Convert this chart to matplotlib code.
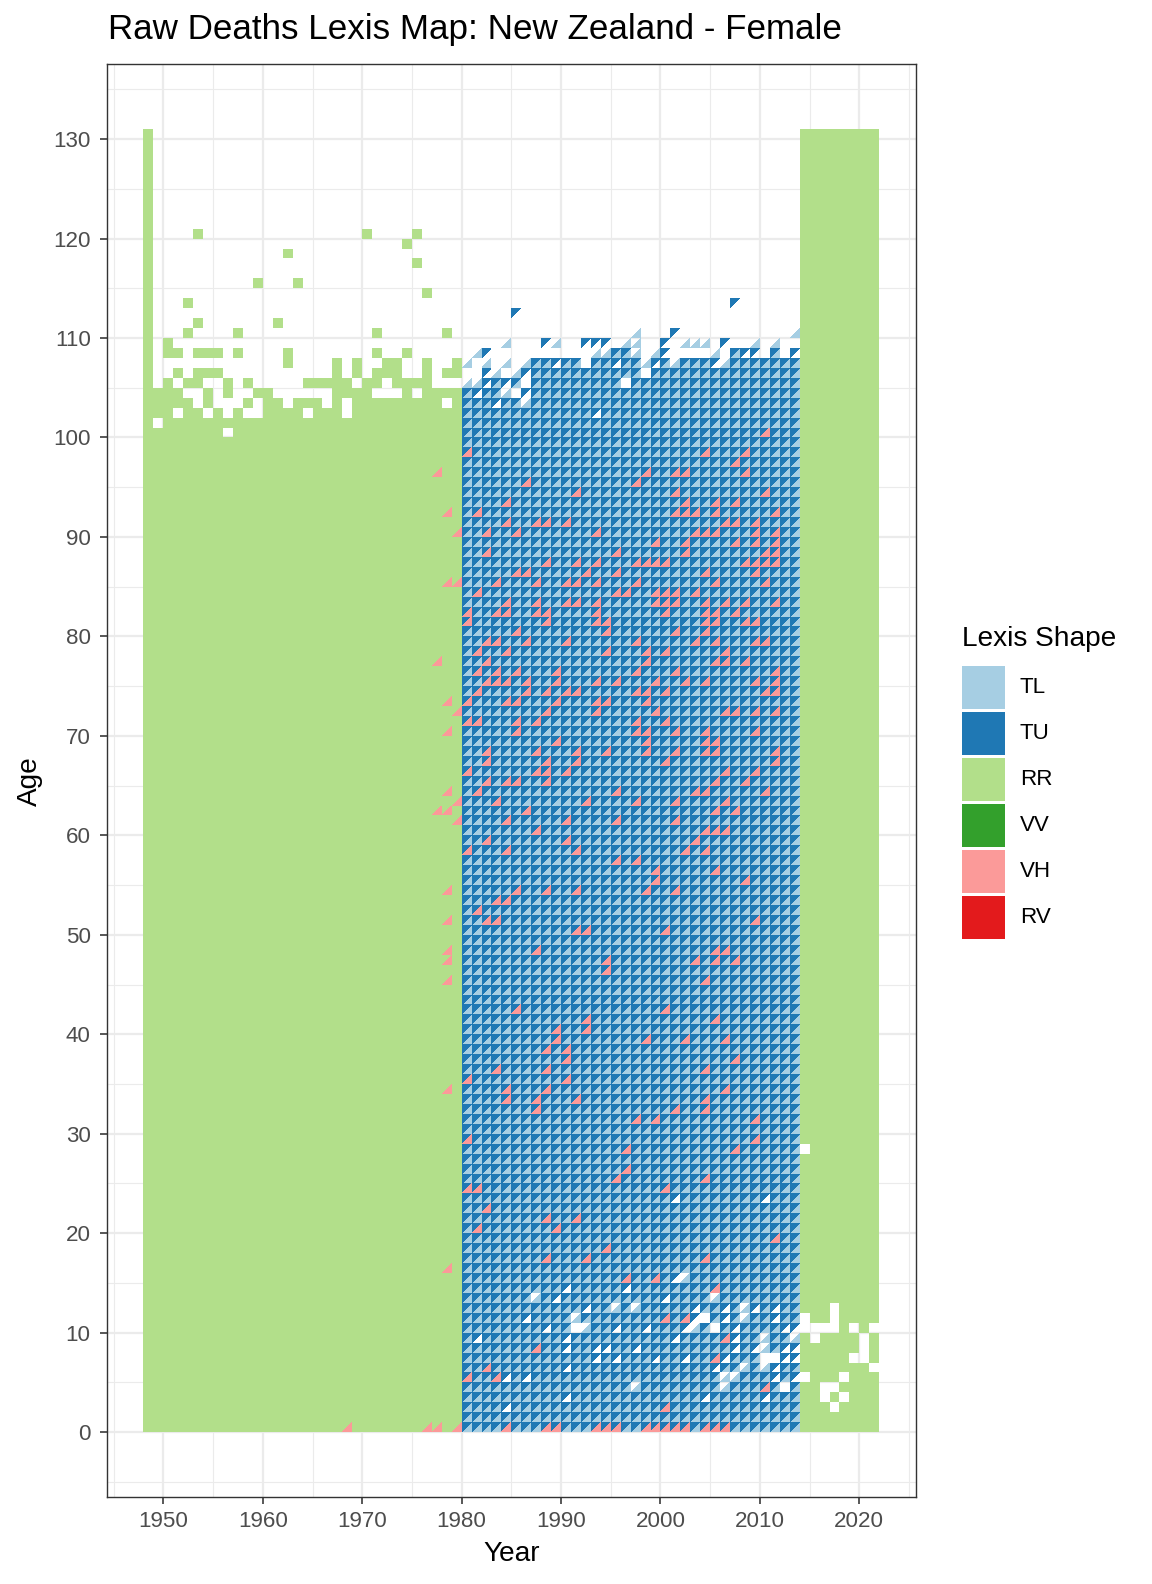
import matplotlib
matplotlib.use('Agg')
import matplotlib.pyplot as plt
from matplotlib.collections import PolyCollection
from matplotlib.patches import Rectangle

plt.rcParams['font.family'] = ['Liberation Sans', 'DejaVu Sans']

# ---------------- data ----------------
shape_names = ['TL', 'TU', 'RR', 'VV', 'VH', 'RV']
shape_colors = ['#A6CEE3', '#1F78B4', '#B2DF8A', '#33A02C', '#FB9A99', '#E31A1C']

# RR period 1948-1979: every age below 100 is present, rows above are read cell by cell
rr_left_years = list(range(1948, 1980))
rr_left_full_below = 100
rr_1948_top = 131
rr_left_rows = {
    120: "#....#................#....#....",
    119: "#.........................#.....",
    118: "#.............#.................",
    117: "#..........................#....",
    116: "#...............................",
    115: "#..........#...#................",
    114: "#...........................#...",
    113: "#...#...........................",
    112: "#...............................",
    111: "#....#.......#..................",
    110: "#...#....#.............#......#.",
    109: "#.#.............................",
    108: "#.##.###.#....#........#..#.....",
    107: "#.............#....#.#..##..#..#",
    106: "#..#.###...........#.#.###..#.##",
    105: "#.#.##..#.#.....#####.##.####...",
    104: "####..#.#..##......####...#.####",
    103: "#####.#...#.##.###.#.#########.#",
    102: "###.##.#.#..####.###.###########",
    101: "#.##############################",
    100: "########.#######################",
}

# triangle period 1980-2013: F = both triangles, L = lower only, U = upper only
tri_years = list(range(1980, 2014))
tri_full_below = 102
tri_rows = {
    113: "...........................U......",
    112: ".....U............................",
    111: "..................................",
    110: ".................L...U...........L",
    109: "....L...UL..UUU.LL..U.LLL.U..L.L..",
    108: ".LU..........LLFFL.LU....L.FUU.F.U",
    107: "L.L.L.LFFUFF.FFUFFLUFLFFFULFFFFFFF",
    106: "..UL.LU" + "F" * 11 + "." + "F" * 15,
    105: "LLUFUF." + "F" * 9 + "." + "F" * 17,
    104: "FUFFL.U" + "F" * 27,
    103: "FFFUFFL" + "F" * 27,
    102: "F" * 13 + "U" + "F" * 20,
}
tri_missing = [
    (2001, 23, 'TL'), (2010, 23, 'TL'),
    (2001, 15, 'TL'), (2002, 15, 'TU'), (1990, 14, 'TL'), (1996, 14, 'TL'),
    (1987, 13, 'TU'), (1989, 13, 'TL'), (2000, 13, 'TL'), (2005, 13, 'TU'),
    (1992, 12, 'TL'), (1995, 12, 'TU'), (1997, 12, 'TU'), (2003, 12, 'TL'),
    (2006, 12, 'TL'), (2008, 12, 'TU'), (2009, 12, 'TL'), (2011, 12, 'TL'),
    (1986, 11, 'TL'), (1991, 11, 'TU'), (2003, 11, 'TL'), (2004, 11, 'TU'),
    (2004, 11, 'TL'), (2006, 11, 'TL'), (2008, 11, 'TU'), (2011, 11, 'TL'),
    (1988, 10, 'TL'), (1991, 10, 'TU'), (1991, 10, 'TL'), (1992, 10, 'TU'),
    (1995, 10, 'TL'), (1998, 10, 'TL'), (2002, 10, 'TL'), (2003, 10, 'TU'),
    (2005, 10, 'TU'), (2005, 10, 'TL'), (2007, 10, 'TL'), (2012, 10, 'TL'),
    (2013, 10, 'TL'),
    (1981, 9, 'TL'), (1990, 9, 'TL'), (2001, 9, 'TL'), (2007, 9, 'TL'),
    (2010, 9, 'TU'), (2013, 9, 'TU'),
    (1990, 8, 'TL'), (1993, 8, 'TL'), (1994, 8, 'TL'), (1997, 8, 'TL'),
    (2007, 8, 'TL'), (2009, 8, 'TL'), (2010, 8, 'TU'), (2012, 8, 'TL'),
    (2013, 8, 'TL'),
    (1993, 7, 'TL'), (1995, 7, 'TL'), (1999, 7, 'TL'), (2002, 7, 'TL'),
    (2006, 7, 'TL'), (2010, 7, 'TU'), (2010, 7, 'TL'), (2011, 7, 'TU'),
    (2011, 7, 'TL'), (2012, 7, 'TL'), (2013, 7, 'TL'),
    (1990, 6, 'TL'), (2005, 6, 'TL'), (2008, 6, 'TU'), (2010, 6, 'TU'),
    (2011, 6, 'TL'),
    (1984, 5, 'TL'), (1986, 5, 'TL'), (2006, 5, 'TU'), (2007, 5, 'TU'),
    (2011, 5, 'TL'), (2013, 5, 'TL'),
    (1997, 4, 'TU'), (2006, 4, 'TU'), (2012, 4, 'TU'), (2012, 4, 'TL'),
    (1990, 3, 'TL'), (2004, 3, 'TL'), (2010, 3, 'TL'),
    (1984, 2, 'TL'),
]

# VH cells (drawn in the lower triangle slot)
vh_cells = [
    # inside the RR period
    (1977, 96), (1978, 92), (1979, 90), (1978, 85), (1979, 85), (1977, 77),
    (1978, 73), (1979, 72), (1978, 70), (1978, 64), (1979, 63), (1977, 62),
    (1978, 62), (1979, 61), (1978, 54), (1978, 51), (1978, 48), (1978, 47),
    (1978, 45), (1978, 34), (1978, 16), (1968, 0), (1976, 0), (1977, 0),
    (1979, 0),
    # inside the triangle period
    (2010, 100), (1980, 98), (2004, 98), (2008, 98), (2007, 97), (1998, 96),
    (2001, 96), (2002, 96), (2008, 96), (1986, 95), (1997, 95), (1991, 94),
    (2001, 94), (2010, 94), (1984, 93), (2002, 93), (2005, 93), (2007, 93),
    (1981, 92), (2001, 92), (2002, 92), (2003, 92), (2005, 92), (2011, 92),
    (1984, 91), (1987, 91), (1988, 91), (1990, 91), (2006, 91), (2007, 91),
    (2009, 91), (1982, 90), (1985, 90), (1993, 90), (2003, 90), (2004, 90),
    (2005, 90), (2009, 90), (2011, 90), (1999, 89), (2002, 89), (2007, 89),
    (2009, 89), (2011, 89), (1982, 88), (1995, 88), (2002, 88), (2010, 88),
    (2011, 88), (1988, 87), (1991, 87), (1993, 87), (1997, 87), (1998, 87),
    (1999, 87), (2000, 87), (2008, 87), (2009, 87), (2010, 87), (2011, 87),
    (1985, 86), (1986, 86), (1992, 86), (1995, 86), (2004, 86), (2009, 86),
    (1983, 85), (1987, 85), (1990, 85), (1991, 85), (1993, 85), (1997, 85),
    (2005, 85), (2010, 85), (1981, 84), (1995, 84), (1996, 84), (1999, 84),
    (2000, 84), (2001, 84), (2003, 84), (1984, 83), (1987, 83), (1990, 83),
    (1991, 83), (1993, 83), (1999, 83), (2000, 83), (2001, 83), (2004, 83),
    (2006, 83), (2008, 83), (2011, 83), (1980, 82), (1983, 82), (1984, 82),
    (1987, 82), (1988, 82), (1993, 82), (2000, 82), (2004, 82), (2005, 82),
    (2007, 82), (1980, 81), (1988, 81), (1993, 81), (1994, 81), (2004, 81),
    (2005, 81), (2008, 81), (2009, 81), (1985, 80), (1994, 80), (2001, 80),
    (2004, 80), (1982, 79), (1983, 79), (1986, 79), (1990, 79), (1997, 79),
    (2003, 79), (2005, 79), (2009, 79), (2010, 79), (1981, 78), (1984, 78),
    (1994, 78), (1998, 78), (2000, 78), (2006, 78), (1982, 77), (1998, 77),
    (2005, 77), (2006, 77), (2008, 77), (1981, 76), (1983, 76), (1985, 76),
    (1989, 76), (1997, 76), (2001, 76), (2011, 76), (1982, 75), (1983, 75),
    (1984, 75), (1986, 75), (1989, 75), (1993, 75), (1995, 75), (1999, 75),
    (2002, 75), (2004, 75), (2009, 75), (2011, 75), (1981, 74), (1986, 74),
    (1988, 74), (1990, 74), (1991, 74), (1997, 74), (1998, 74), (2000, 74),
    (2010, 74), (2011, 74), (1980, 73), (1984, 73), (1985, 73), (1989, 73),
    (1993, 73), (1994, 73), (1998, 73), (1988, 72), (1993, 72), (1999, 72),
    (2006, 72), (2007, 72), (2009, 72), (2011, 72), (1980, 71), (1981, 71),
    (1985, 71), (1987, 71), (1997, 71), (2000, 71), (1985, 70), (1997, 70),
    (1998, 70), (2001, 70), (2004, 70), (2009, 70), (1989, 69), (1998, 69),
    (2004, 69), (2005, 69), (1982, 68), (1987, 68), (1991, 68), (1994, 68),
    (1998, 68), (2001, 68), (2004, 68), (2005, 68), (2011, 68), (1982, 67),
    (1988, 67), (1991, 67), (2000, 67), (2011, 67), (1980, 66), (1987, 66),
    (1988, 66), (1990, 66), (2006, 66), (2009, 66), (1982, 65), (1984, 65),
    (1985, 65), (1988, 65), (2005, 65), (2008, 65), (1981, 64), (1995, 64),
    (2003, 64), (2004, 64), (2010, 64), (1983, 63), (1992, 63), (1997, 63),
    (2001, 63), (2006, 63), (1986, 62), (2005, 62), (2007, 62), (1984, 61),
    (1990, 61), (1995, 61), (2001, 61), (1987, 60), (2004, 60), (2005, 60),
    (2006, 60), (1982, 59), (1990, 59), (2003, 59),
    (1980, 58), (1984, 58), (1991, 58), (2002, 58), (2004, 58), (1995, 57),
    (1997, 57), (1999, 56), (2005, 56), (1999, 55), (2008, 55), (1985, 54),
    (1988, 54), (1991, 54), (1998, 54), (2001, 54), (1983, 53), (1984, 53),
    (1981, 52), (1982, 51), (1983, 51), (2009, 51), (1991, 50), (1992, 50),
    (2000, 50), (1987, 48), (2005, 48), (2006, 48), (1994, 47), (2003, 47),
    (2005, 47), (2007, 47), (1994, 46), (2004, 45), (1985, 42), (2000, 42),
    (1992, 41), (2005, 41), (1989, 40), (1992, 40), (1989, 39), (1998, 39),
    (2002, 39), (2006, 39), (1988, 38), (1990, 38), (1990, 37), (2007, 37),
    (1983, 36), (1988, 36), (2004, 36), (1980, 35), (1990, 35), (1984, 34),
    (1988, 34), (2006, 34), (1984, 33), (1987, 33), (1991, 33), (2004, 33),
    (1987, 32), (2001, 32), (2004, 32), (1997, 31), (1999, 31), (2009, 31),
    (1980, 29), (2009, 29), (1996, 28), (2007, 28), (1996, 26), (1995, 25),
    (2004, 25), (1980, 24), (1981, 24), (2000, 24), (1982, 22), (1988, 21),
    (1991, 21), (1981, 20), (1989, 20), (2011, 19), (1994, 18), (1988, 17),
    (1992, 17), (2004, 17), (1996, 15), (1999, 15), (2005, 14), (2000, 11),
    (2002, 11), (2006, 9), (1987, 8), (2005, 7), (1982, 6), (1980, 5),
    (1983, 5), (2010, 4), (2000, 2),
    (1984, 0), (1988, 0), (1989, 0), (1993, 0), (1994, 0), (1995, 0),
    (1998, 0), (1999, 0), (2000, 0), (2001, 0), (2002, 0), (2004, 0),
    (2005, 0), (2006, 0),
]

# RR period 2014-2021: ages 0-130 present apart from these holes
rr_right_years = list(range(2014, 2022))
rr_right_top = 131
rr_right_holes = [
    (2014, 28), (2017, 12), (2014, 11), (2017, 11), (2014, 10), (2015, 10),
    (2016, 10), (2017, 10), (2019, 10), (2021, 10), (2015, 9), (2020, 9),
    (2020, 8), (2019, 7), (2020, 7), (2021, 6), (2014, 5), (2018, 5),
    (2016, 4), (2017, 4), (2016, 3), (2018, 3), (2017, 2),
]


# ---------------- geometry ----------------
def square(y, a):
    return [(y, a), (y + 1, a), (y + 1, a + 1), (y, a + 1)]

def tri_low(y, a):
    return [(y, a), (y + 1, a), (y + 1, a + 1)]

def tri_up(y, a):
    return [(y, a), (y, a + 1), (y + 1, a + 1)]


polys = {k: [] for k in shape_names}

for i, yr in enumerate(rr_left_years):
    for a in range(rr_left_full_below):
        polys['RR'].append(square(yr, a))
    for a, row in rr_left_rows.items():
        if row[i] == '#':
            polys['RR'].append(square(yr, a))
for a in range(max(rr_left_rows) + 1, rr_1948_top):
    polys['RR'].append(square(rr_left_years[0], a))

holes = set(rr_right_holes)
for yr in rr_right_years:
    for a in range(rr_right_top):
        if (yr, a) not in holes:
            polys['RR'].append(square(yr, a))

missing = set(tri_missing)
vh_set = set(vh_cells)
for i, yr in enumerate(tri_years):
    for a in range(max(tri_rows) + 1):
        code = 'F' if a < tri_full_below else tri_rows[a][i]
        if code in 'FL' and (yr, a, 'TL') not in missing and (yr, a) not in vh_set:
            polys['TL'].append(tri_low(yr, a))
        if code in 'FU' and (yr, a, 'TU') not in missing:
            polys['TU'].append(tri_up(yr, a))

for yr, a in vh_cells:
    polys['VH'].append(tri_low(yr, a))

# ---------------- figure ----------------
W, H = 1152, 1584
fig = plt.figure(figsize=(W / 144, H / 144), dpi=144)
px_l, px_r, px_t, px_b = 106.7, 916.0, 64.0, 1497.3
ax = fig.add_axes([px_l / W, 1 - px_b / H, (px_r - px_l) / W, (px_b - px_t) / H])

for name, col in zip(shape_names, shape_colors):
    if polys[name]:
        pc = PolyCollection(polys[name], facecolors=col, edgecolors='none',
                            linewidths=0, antialiased=False, zorder=2)
        ax.add_collection(pc)

ax.set_xlim(1948 - 0.05 * 74, 2022 + 0.05 * 74)
ax.set_ylim(0 - 0.05 * 131, 131 + 0.05 * 131)

ax.set_xticks(range(1950, 2021, 10))
ax.set_xticks(range(1945, 2026, 10), minor=True)
ax.set_yticks(range(0, 131, 10))
ax.set_yticks(range(-5, 136, 10), minor=True)

ax.set_axisbelow(True)
ax.grid(which='major', color='#EBEBEB', linewidth=1.1, zorder=0)
ax.grid(which='minor', color='#EBEBEB', linewidth=0.55, zorder=0)
for sp in ax.spines.values():
    sp.set_color('#333333')
    sp.set_linewidth(0.7)
    sp.set_zorder(5)

ax.tick_params(which='major', length=3.7, width=0.8, color='#333333',
               labelcolor='#4D4D4D', labelsize=11.2)
ax.tick_params(axis='y', which='major', pad=4.3)
ax.tick_params(axis='x', which='major', pad=3.0)
ax.tick_params(which='minor', length=0)

# titles
fig.text(108 / W, 1 - 39.5 / H, 'Raw Deaths Lexis Map: New Zealand - Female',
         fontsize=17.5, ha='left', va='baseline', color='black')
fig.text((px_l + px_r) / 2 / W, 1 - 1561 / H, 'Year', fontsize=14,
         ha='center', va='baseline')
fig.text(30 / W, 1 - (px_t + px_b) / 2 / H, 'Age', fontsize=14,
         ha='center', va='center', rotation=90)

# legend, drawn by hand
fig.text(962 / W, 1 - 646 / H, 'Lexis Shape', fontsize=14, ha='left',
         va='baseline')
key_top = 666.0
key_h = 42.5
key_step = 46.0
for k, (name, col) in enumerate(zip(shape_names, shape_colors)):
    top = key_top + k * key_step
    fig.patches.append(Rectangle((962 / W, 1 - (top + key_h) / H), 43 / W,
                                 key_h / H, transform=fig.transFigure,
                                 facecolor=col, edgecolor='none'))
    fig.text(1020 / W, 1 - (top + key_h / 2) / H, name, fontsize=11.2,
             ha='left', va='center')

fig.savefig('out.png', dpi=144)
